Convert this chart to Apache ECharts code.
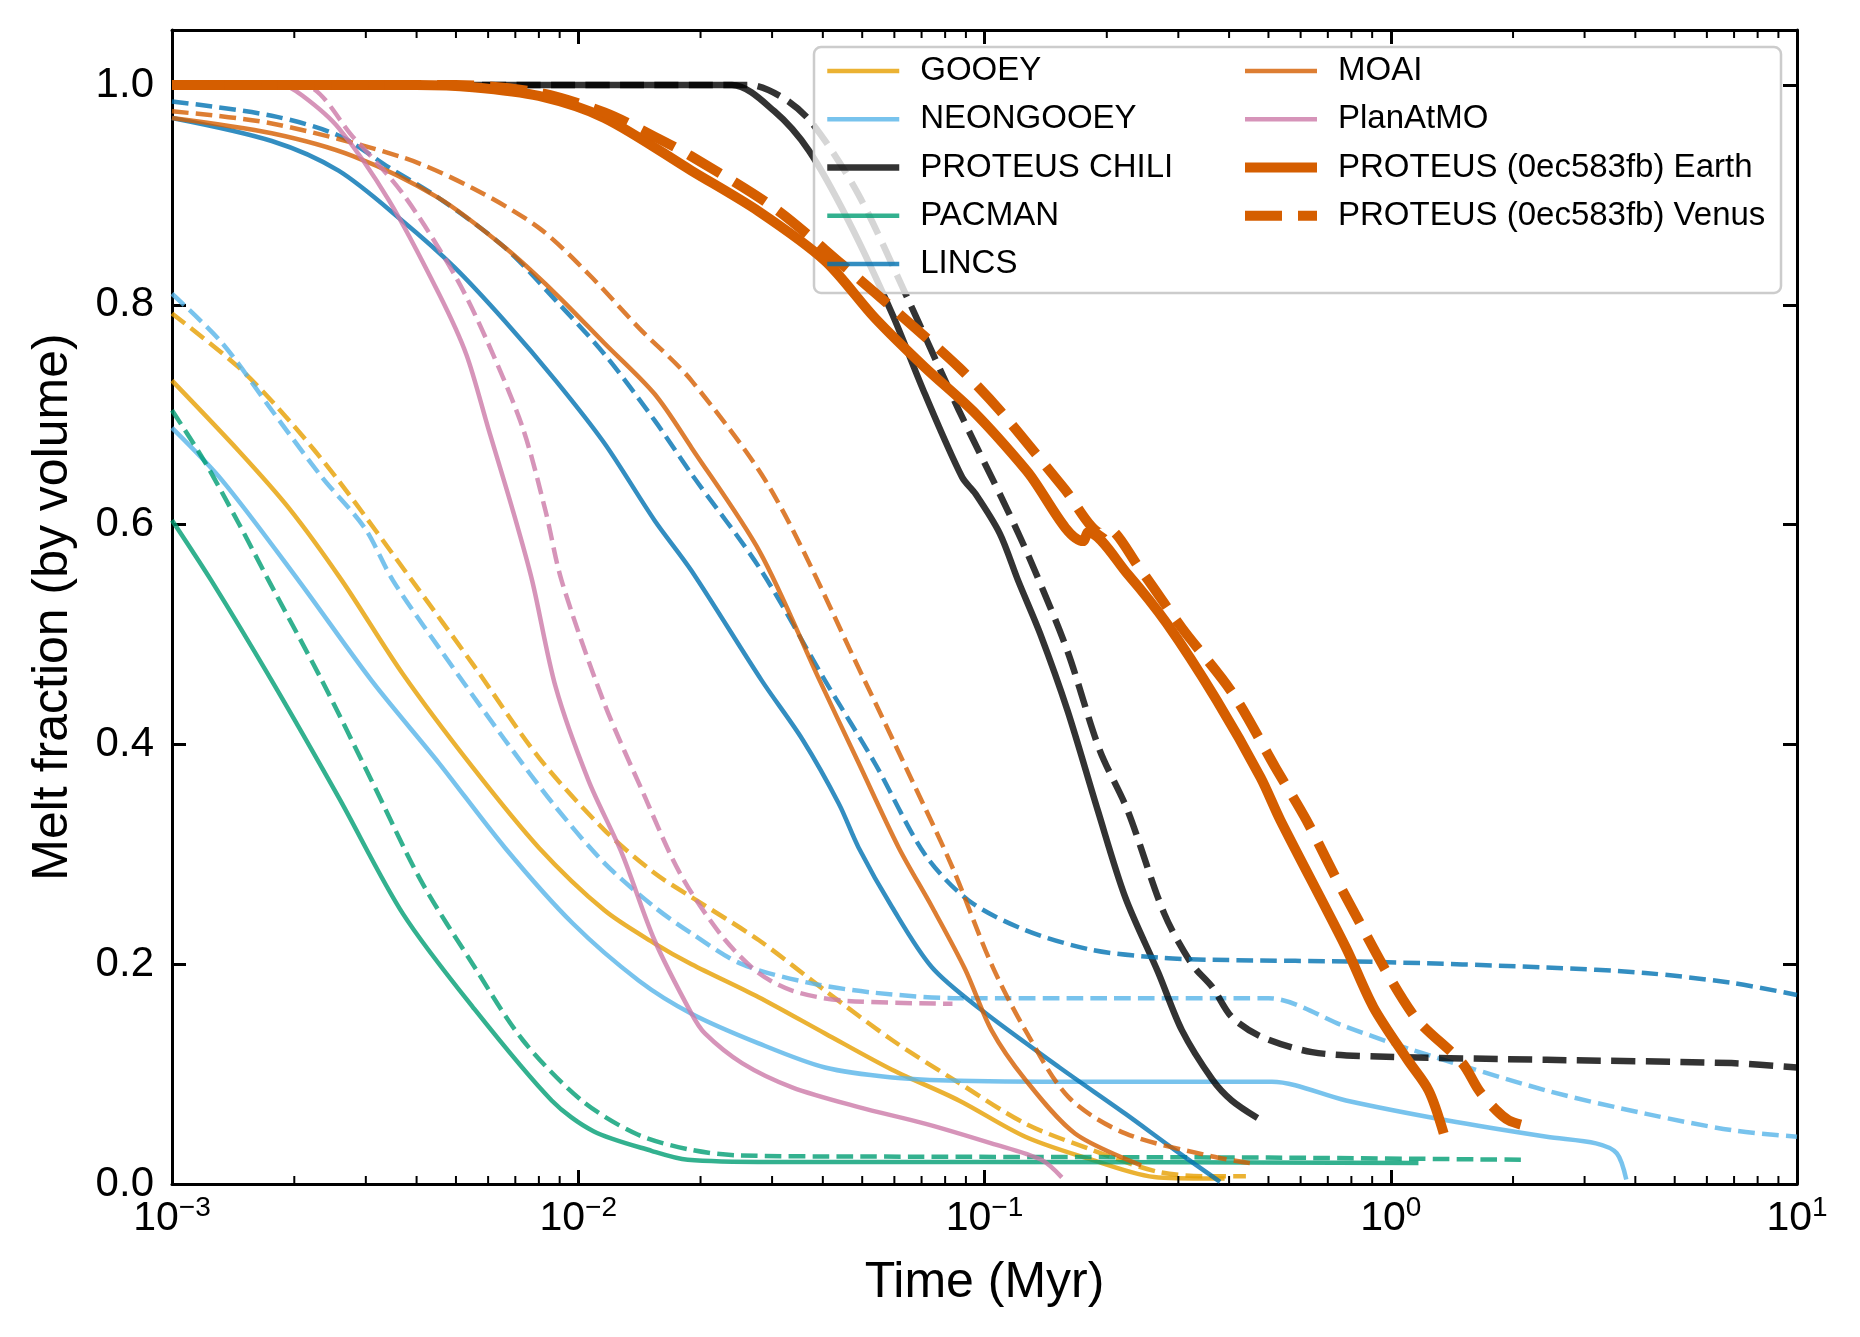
<!DOCTYPE html>
<html><head><meta charset="utf-8">
<script src="https://cdn.jsdelivr.net/npm/echarts@6/dist/echarts.min.js"></script>
<style>html,body{margin:0;padding:0;background:#fff}#c{width:1860px;height:1337px}</style>
</head><body><div id="c"></div>
<script>
// ---- data: [time (Myr), melt fraction] ----
const gooeyEarth = [[0.001,0.731],[0.00146,0.667],[0.00194,0.615],[0.00262,0.549],[0.0037,0.464],[0.0055,0.379],[0.008,0.306],[0.0116,0.249],[0.0154,0.219],[0.019,0.200],[0.0278,0.170],[0.0405,0.137],[0.0592,0.104],[0.0865,0.076],[0.126,0.043],[0.184,0.022],[0.268,0.006],[0.39,0.005]];
const gooeyVenus = [[0.001,0.792],[0.00146,0.743],[0.00194,0.695],[0.00257,0.640],[0.0039,0.549],[0.0055,0.473],[0.008,0.388],[0.0116,0.322],[0.0154,0.283],[0.019,0.261],[0.0278,0.222],[0.0405,0.176],[0.0592,0.131],[0.0865,0.092],[0.126,0.055],[0.184,0.031],[0.268,0.011],[0.36,0.007],[0.44,0.007]];
const neonEarth = [[0.001,0.688],[0.00133,0.640],[0.00205,0.549],[0.0031,0.458],[0.00454,0.383],[0.0066,0.306],[0.0097,0.237],[0.0141,0.185],[0.019,0.155],[0.0278,0.128],[0.0405,0.106],[0.0592,0.097],[0.0865,0.094],[0.2,0.093],[0.51,0.093],[0.776,0.076],[1.37,0.058],[2.42,0.043],[3.2,0.037],[3.6,0.028],[3.8,0.004]];
const neonVenus = [[0.001,0.810],[0.00133,0.765],[0.00176,0.704],[0.00234,0.643],[0.00298,0.597],[0.0035,0.549],[0.00454,0.488],[0.0066,0.404],[0.0088,0.343],[0.0116,0.292],[0.0154,0.252],[0.019,0.228],[0.0253,0.200],[0.037,0.183],[0.0537,0.174],[0.0865,0.169],[0.2,0.169],[0.5,0.169],[0.776,0.143],[1.13,0.122],[2.42,0.085],[4.23,0.064],[6.9,0.049],[10,0.043]];
const chiliEarth = [[0.001,1.0],[0.0239,1.0],[0.0304,0.976],[0.037,0.94],[0.0463,0.876],[0.0592,0.792],[0.0713,0.719],[0.0881,0.643],[0.095,0.628],[0.109,0.592],[0.121,0.549],[0.137,0.501],[0.16,0.431],[0.19,0.34],[0.222,0.261],[0.268,0.192],[0.306,0.14],[0.364,0.095],[0.406,0.076],[0.47,0.06]];
const chiliVenus = [[0.001,1.0],[0.0263,1.0],[0.032,0.988],[0.0377,0.965],[0.049,0.9],[0.065,0.804],[0.0865,0.704],[0.114,0.613],[0.132,0.561],[0.16,0.485],[0.192,0.395],[0.225,0.34],[0.277,0.246],[0.324,0.2],[0.364,0.179],[0.406,0.152],[0.48,0.134],[0.64,0.12],[0.93,0.116],[2.42,0.113],[6.9,0.11],[10,0.106]];
const pacmanEarth = [[0.001,0.604],[0.00125,0.549],[0.00176,0.458],[0.00257,0.352],[0.0037,0.246],[0.0055,0.161],[0.0086,0.076],[0.0109,0.048],[0.0152,0.030],[0.0186,0.022],[0.03,0.020],[0.1,0.020],[1.17,0.019]];
const pacmanVenus = [[0.001,0.704],[0.0012,0.658],[0.00146,0.601],[0.00173,0.549],[0.00234,0.458],[0.0031,0.367],[0.0041,0.276],[0.0055,0.200],[0.0073,0.131],[0.0102,0.076],[0.014,0.045],[0.019,0.031],[0.025,0.026],[0.05,0.025],[0.5,0.024],[2.15,0.022]];
const lincsEarth = [[0.001,0.970],[0.00176,0.949],[0.00257,0.922],[0.0037,0.876],[0.00496,0.834],[0.0066,0.785],[0.0088,0.731],[0.0116,0.674],[0.0154,0.604],[0.019,0.558],[0.0283,0.458],[0.0357,0.404],[0.0438,0.346],[0.049,0.306],[0.0592,0.252],[0.0743,0.197],[0.0985,0.158],[0.153,0.106],[0.222,0.064],[0.294,0.031],[0.38,0.002]];
const lincsVenus = [[0.001,0.985],[0.00176,0.972],[0.00257,0.954],[0.00342,0.925],[0.00454,0.897],[0.0066,0.852],[0.0088,0.804],[0.0116,0.755],[0.0154,0.695],[0.019,0.646],[0.028,0.56],[0.0405,0.458],[0.0537,0.383],[0.0713,0.300],[0.0914,0.258],[0.126,0.231],[0.184,0.213],[0.268,0.206],[0.364,0.204],[0.93,0.202],[2.42,0.197],[4.23,0.192],[6.9,0.183],[10,0.172]];
const moaiEarth = [[0.001,0.970],[0.00176,0.956],[0.0028,0.935],[0.00454,0.897],[0.0066,0.852],[0.0088,0.810],[0.0116,0.765],[0.0154,0.719],[0.019,0.670],[0.028,0.575],[0.0393,0.458],[0.049,0.383],[0.0615,0.306],[0.0743,0.252],[0.0897,0.195],[0.104,0.140],[0.126,0.095],[0.167,0.046],[0.243,0.017]];
const moaiVenus = [[0.001,0.976],[0.00176,0.965],[0.0037,0.934],[0.0055,0.906],[0.008,0.870],[0.0106,0.828],[0.0141,0.779],[0.019,0.731],[0.03,0.63],[0.0507,0.458],[0.065,0.374],[0.0834,0.288],[0.104,0.200],[0.126,0.140],[0.161,0.079],[0.222,0.046],[0.364,0.025],[0.45,0.019]];
const planEarth = [[0.001,1.0],[0.00186,1.0],[0.0021,0.99],[0.00257,0.961],[0.00342,0.895],[0.00454,0.810],[0.0053,0.755],[0.006,0.688],[0.0069,0.613],[0.0077,0.549],[0.0088,0.452],[0.0106,0.367],[0.0128,0.301],[0.0154,0.222],[0.019,0.155],[0.0205,0.137],[0.0253,0.110],[0.0336,0.088],[0.049,0.070],[0.0713,0.055],[0.104,0.037],[0.138,0.022],[0.155,0.006]];
const planVenus = [[0.001,1.0],[0.00209,1.0],[0.0028,0.952],[0.0037,0.901],[0.005,0.825],[0.006,0.765],[0.0073,0.688],[0.0083,0.613],[0.0091,0.549],[0.0116,0.437],[0.0146,0.352],[0.017,0.297],[0.019,0.265],[0.023,0.222],[0.0278,0.192],[0.0336,0.176],[0.0445,0.167],[0.0834,0.164]];
const proteusEarth = [[0.001,1.0],[0.004,1.0],[0.0055,0.998],[0.008,0.99],[0.0116,0.970],[0.019,0.922],[0.0278,0.885],[0.0405,0.840],[0.0537,0.788],[0.0713,0.743],[0.095,0.701],[0.127,0.649],[0.175,0.585],[0.18,0.593],[0.225,0.555],[0.281,0.510],[0.373,0.440],[0.478,0.370],[0.535,0.331],[0.776,0.215],[0.906,0.161],[1.1,0.113],[1.24,0.085],[1.35,0.046]];
const proteusVenus = [[0.001,1.0],[0.005,1.0],[0.008,0.993],[0.0116,0.975],[0.0154,0.953],[0.019,0.935],[0.0304,0.888],[0.0445,0.837],[0.0615,0.792],[0.0865,0.743],[0.109,0.704],[0.157,0.633],[0.195,0.592],[0.2,0.597],[0.24,0.561],[0.306,0.506],[0.409,0.446],[0.52,0.379],[0.62,0.331],[0.776,0.261],[1.13,0.155],[1.5,0.110],[1.65,0.085],[1.82,0.067],[1.95,0.058],[2.09,0.054]];

const xTickExponents = ['\u22123','\u22122','\u22121','0','1'];
const yTickLabels = ['0.0','0.2','0.4','0.6','0.8','1.0'];
const minorTickValues = [0.002,0.003,0.004,0.005,0.006,0.007,0.008,0.009,0.02,0.03,0.04,0.05,0.06,0.07,0.08,0.09,0.2,0.3,0.4,0.5,0.6,0.7,0.8,0.9,2,3,4,5,6,7,8,9];
const legendCol1 = ['GOOEY','NEONGOOEY','PROTEUS CHILI','PACMAN','LINCS'];
const legendCol2 = ['MOAI','PlanAtMO','PROTEUS (0ec583fb) Earth','PROTEUS (0ec583fb) Venus'];

const FONT = 'Liberation Sans, Arial, Helvetica, sans-serif';
const col = {
  gooey:'rgba(230,159,0,0.8)', neon:'rgba(86,180,233,0.8)', chili:'rgba(0,0,0,0.8)',
  pacman:'rgba(0,158,115,0.8)', lincs:'rgba(0,114,178,0.8)', moai:'rgba(213,94,0,0.8)',
  plan:'rgba(204,121,167,0.8)', proteus:'#D55E00'
};
function mk(name, data, color, width, dashed, z) {
  return {
    type:'line', name, data, symbol:'none', showSymbol:false,
    smooth:0.3, animation:false, silent:true, z: z || 2,
    emphasis:{disabled:true},
    lineStyle:{color, width, type: dashed ? [3.7*width, 1.6*width] : 'solid', cap:'butt', join:'round'},
    itemStyle:{color}
  };
}
const thin = 4.5, chiliW = 6.5, thick = 10;
const series = [
  mk('GOOEY', gooeyEarth, col.gooey, thin, false),
  mk('GOOEY (Venus)', gooeyVenus, col.gooey, thin, true),
  mk('NEONGOOEY', neonEarth, col.neon, thin, false),
  mk('NEONGOOEY (Venus)', neonVenus, col.neon, thin, true),
  mk('PROTEUS CHILI', chiliEarth, col.chili, chiliW, false),
  mk('PROTEUS CHILI (Venus)', chiliVenus, col.chili, chiliW, true),
  mk('PACMAN', pacmanEarth, col.pacman, thin, false),
  mk('PACMAN (Venus)', pacmanVenus, col.pacman, thin, true),
  mk('LINCS', lincsEarth, col.lincs, thin, false),
  mk('LINCS (Venus)', lincsVenus, col.lincs, thin, true),
  mk('MOAI', moaiEarth, col.moai, thin, false),
  mk('MOAI (Venus)', moaiVenus, col.moai, thin, true),
  mk('PlanAtMO', planEarth, col.plan, thin, false),
  mk('PlanAtMO (Venus)', planVenus, col.plan, thin, true),
  mk('PROTEUS (0ec583fb) Earth', proteusEarth, col.proteus, thick, false, 16),
  mk('PROTEUS (0ec583fb) Venus', proteusVenus, col.proteus, thick, true, 16),
  {
    type:'custom', silent:true, animation:false, z:6, clip:false,
    data: minorTickValues.map(v => [v, 0.5]),
    encode:{x:0, y:1},
    renderItem: function (params, api) {
      const x = api.coord([api.value(0), 0.5])[0];
      const cs = params.coordSys;
      const st = {stroke:'#000', lineWidth:2};
      return {type:'group', children:[
        {type:'line', shape:{x1:x, y1:cs.y+cs.height, x2:x, y2:cs.y+cs.height-8}, style:st},
        {type:'line', shape:{x1:x, y1:cs.y, x2:x, y2:cs.y+8}, style:st}
      ]};
    }
  }
];

const axisLine = {show:true, onZero:false, lineStyle:{color:'#000', width:3}};
const axisTick = {show:true, inside:true, length:14, lineStyle:{color:'#000', width:3}};
const legendText = {fontFamily:FONT, fontSize:33, color:'#000', lineHeight:48.2, padding:[0,0,0,16]};
const legendCommon = {orient:'vertical', top:47, padding:0, itemGap:0, itemWidth:72, itemHeight:14,
  selectedMode:false, z:20, textStyle:legendText,
  itemStyle:{opacity:0, borderWidth:0},
  lineStyle:{width:'inherit', type:'inherit', color:'inherit', cap:'butt'}};

const option = {
  backgroundColor:'#fff',
  animation:false,
  textStyle:{fontFamily:FONT},
  grid:{left:172, right:63, top:30, bottom:153, containLabel:false, outerBoundsMode:'none'},
  xAxis:[
    {type:'log', logBase:10, min:0.001, max:10, position:'bottom',
     axisLine, axisTick, splitLine:{show:false}, minorTick:{show:false},
     name:'Time (Myr)', nameLocation:'middle', nameGap:74,
     nameTextStyle:{fontFamily:FONT, fontSize:50, color:'#000'},
     axisLabel:{margin:10, color:'#000', fontFamily:FONT,
       formatter: function (v) {
         const i = Math.round(Math.log10(v)) + 3;
         return '{b|10}{s|' + xTickExponents[i] + '}';
       },
       rich:{
         b:{fontSize:41, lineHeight:45, verticalAlign:'bottom', fontFamily:FONT, color:'#000'},
         s:{fontSize:28, lineHeight:30, verticalAlign:'top', fontFamily:FONT, color:'#000'}
       }}
    },
    {type:'log', logBase:10, min:0.001, max:10, position:'top',
     axisLine, axisTick, axisLabel:{show:false}, splitLine:{show:false}}
  ],
  yAxis:[
    {type:'value', min:0, max:1.05, interval:0.2, position:'left',
     axisLine, axisTick, splitLine:{show:false},
     name:'Melt fraction (by volume)', nameLocation:'middle', nameGap:94,
     nameTextStyle:{fontFamily:FONT, fontSize:50, color:'#000'},
     axisLabel:{margin:18, fontSize:42, color:'#000', fontFamily:FONT, showMaxLabel:false,
       formatter: function (v) { const i = Math.round(v/0.2); return (Math.abs(v - i*0.2) < 1e-6 && yTickLabels[i]) ? yTickLabels[i] : ''; }}
    },
    {type:'value', min:0, max:1.05, interval:0.2, position:'right',
     axisLine, axisTick, axisLabel:{show:false}, splitLine:{show:false}}
  ],
  legend:[
    Object.assign({data:legendCol1, left:824}, legendCommon),
    Object.assign({data:legendCol2, left:1240}, legendCommon)
  ],
  graphic:[
    {type:'rect', z:15, silent:true,
     shape:{x:814, y:47, width:967, height:246, r:7},
     style:{fill:'rgba(255,255,255,0.8)', stroke:'#cccccc', lineWidth:2.5}}
  ],
  series
};
const chart = echarts.init(document.getElementById('c'), null, {renderer:'canvas', width:1860, height:1337});
chart.setOption(option);
</script>
</body></html>
